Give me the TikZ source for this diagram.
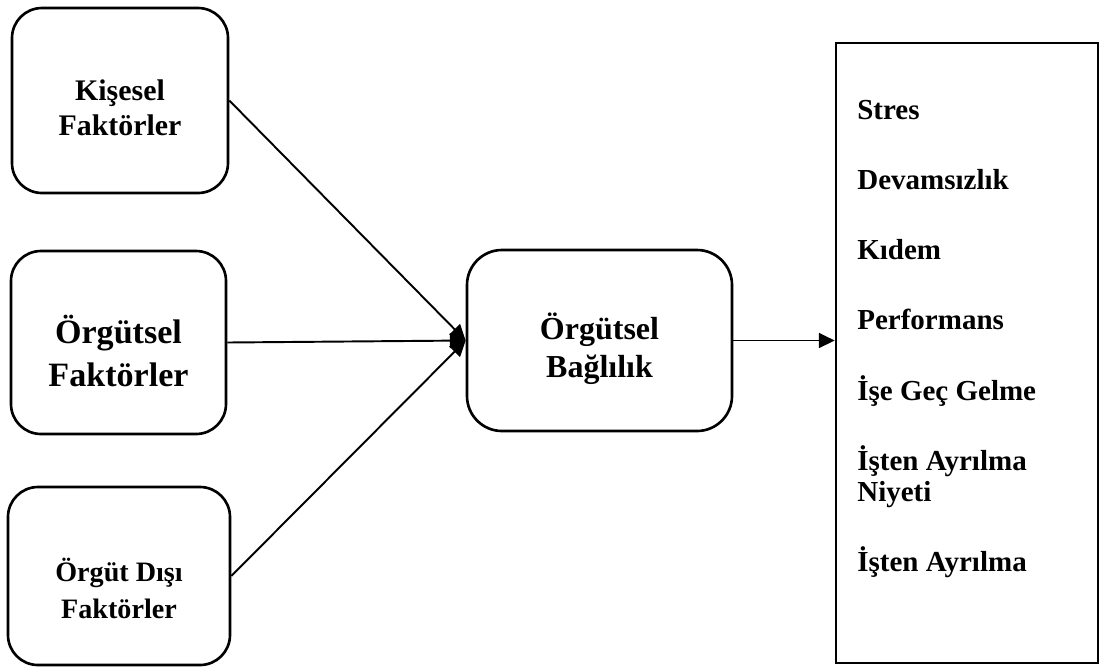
\documentclass[tikz,border=0pt]{standalone}
\usepackage{fontspec}
\setmainfont{Liberation Serif}
\usetikzlibrary{arrows.meta, positioning}

\tikzset{
    faktor/.style={draw, line width=1.5pt, rounded corners=0.6cm},
    etiket/.style={align=center, inner sep=0pt},
    madde/.style={anchor=base west, inner sep=0pt, font=\bfseries\fontsize{16.5}{18}\selectfont},
    ok/.style={line width=1.1pt, -{Triangle[length=9pt, width=8.5pt]}}
}

\begin{document}
\begin{tikzpicture}
    \useasboundingbox (0,0) rectangle (22,-13.38);

    % kutular
    \node[faktor, minimum width=4.32cm, minimum height=3.70cm] (kisesel) at (2.40,-2.01) {};
    \node[faktor, minimum width=4.30cm, minimum height=3.66cm] (orgutsel) at (2.37,-6.85) {};
    \node[faktor, minimum width=4.44cm, minimum height=3.56cm] (disi) at (2.38,-11.52) {};
    \node[faktor, rounded corners=0.7cm, minimum width=5.30cm, minimum height=3.62cm] (baglilik) at (11.99,-6.81) {};
    \node[draw, line width=1.5pt, minimum width=5.24cm, minimum height=12.40cm] (sonuc) at (19.34,-7.06) {};

    % kutu yazilari
    \node[etiket, font=\bfseries\fontsize{17}{20}\selectfont] (kiseselyazi) at (2.40,-2.15) {Kişesel\\Faktörler};
    \node[etiket, font=\bfseries\fontsize{19.4}{24}\selectfont] (orgutselyazi) at (2.37,-7.02) {Örgütsel\\Faktörler};
    \node[etiket, font=\bfseries\fontsize{16}{21}\selectfont] (disiyazi) at (2.38,-11.76) {Örgüt Dışı\\Faktörler};
    \node[etiket, font=\bfseries\fontsize{18.2}{21.6}\selectfont] (baglilikyazi) at (11.99,-6.98) {Örgütsel\\Bağlılık};

    % sonuclar
    \foreach \metin/\y [count=\i] in {Stres/2.38, Devamsızlık/3.78, Kıdem/5.18, Performans/6.58,
        İşe Geç Gelme/8.00, İşten Ayrılma/9.40, Niyeti/10.02, İşten Ayrılma/11.42}
        \node[madde] (madde\i) at (17.14,-\y) {\metin};

    % oklar
    \draw[ok] (kisesel.east) -- (baglilik.west);
    \draw[ok] (orgutsel.east) -- (baglilik.west);
    \draw[ok] (disi.east) -- (baglilik.west);
    \draw[ok] (baglilik.east) -- (baglilik.east -| sonuc.west);
\end{tikzpicture}
\end{document}
